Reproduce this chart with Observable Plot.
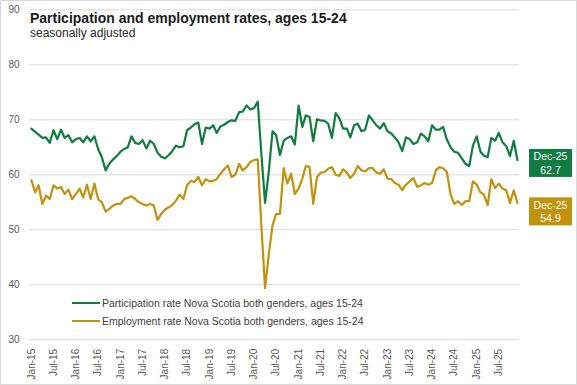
<!DOCTYPE html>
<html>
<head>
<meta charset="utf-8">
<script src="https://cdn.jsdelivr.net/npm/d3@7"></script>
<script src="https://cdn.jsdelivr.net/npm/@observablehq/plot@0.6"></script>
<style>
  html, body { margin: 0; padding: 0; background: #fff; }
  #wrap { position: relative; width: 577px; height: 385px; overflow: hidden;
          font-family: "Liberation Sans", Arial, sans-serif; }
  #chart svg { display: block; }
  #title { position: absolute; left: 30px; top: 10.8px; font-size: 14px; line-height: 14px;
           font-weight: bold; color: #1a1a1a; white-space: nowrap; }
  #subtitle { position: absolute; left: 30px; top: 27.1px; font-size: 12px; line-height: 12px;
              color: #262626; white-space: nowrap; }
  .leg { position: absolute; left: 72px; font-size: 10.5px; line-height: 10.5px; color: #404040;
         white-space: nowrap; display: flex; align-items: center; }
  .leg .sw { display: inline-block; width: 28px; height: 2px; margin-right: 2px; }
  #border { position: absolute; left: 0; top: 0; width: 577px; height: 385px; box-sizing: border-box;
            border: 1px solid #d9d9d9; pointer-events: none; }
</style>
</head>
<body>
<div id="wrap">
  <div id="chart"></div>
  <div id="title"></div>
  <div id="subtitle"></div>
  <div id="legend"></div>
  <div id="border"></div>
</div>
<script>
// ---------- data ----------
const titleText = "Participation and employment rates, ages 15-24";
const subtitleText = "seasonally adjusted";
const seriesNames = [
  "Participation rate Nova Scotia both genders, ages 15-24",
  "Employment rate Nova Scotia both genders, ages 15-24"
];
const firstMonth = "2015-01";
const lastMonth = "2025-12";
const yTicks = [30, 40, 50, 60, 70, 80, 90];

const participation = [
  68.4, 67.8, 67.3, 66.7, 66.8, 65.8, 68.1, 66.5, 68.2, 66.7, 67.2, 65.9,
  66.5, 66.7, 65.9, 67.0, 66.1, 67.0, 64.7, 63.2, 60.8, 62.0, 62.8, 63.4,
  64.2, 64.7, 65.0, 67.0, 65.8, 65.6, 66.3, 64.8, 66.2, 65.6, 64.0, 63.3,
  63.0, 63.6, 64.3, 65.3, 65.0, 65.2, 68.1, 68.6, 69.2, 69.5, 65.6, 68.6,
  68.4, 69.0, 67.6, 68.8, 69.1, 69.6, 69.9, 69.8, 71.4, 71.5, 72.6, 71.9,
  72.1, 73.3, 64.0, 54.9, 60.5, 67.9, 67.2, 63.6, 66.2, 66.7, 67.0, 65.5,
  72.6, 68.7, 70.8, 70.5, 66.1, 70.1, 69.9, 69.8, 69.3, 66.7, 71.2, 70.3,
  68.4, 68.4, 66.8, 69.0, 69.3, 67.9, 68.2, 70.8, 69.9, 69.0, 68.4, 69.4,
  67.9, 67.5, 66.8, 65.9, 64.3, 66.8, 66.5, 65.6, 65.9, 67.5, 67.0, 66.1,
  69.0, 68.2, 68.2, 68.7, 66.4, 65.0, 64.2, 64.0, 63.0, 62.0, 61.6, 65.3,
  67.0, 64.2, 63.5, 63.2, 66.7, 66.2, 67.6, 65.9, 65.2, 63.4, 66.2, 62.7
];
const employment = [
  59.0, 56.8, 58.1, 54.7, 56.2, 55.6, 58.1, 57.5, 57.8, 56.5, 57.3, 55.6,
  56.5, 57.5, 55.9, 58.2, 55.6, 58.4, 55.6, 55.0, 53.3, 53.8, 54.4, 54.7,
  54.7, 55.6, 55.8, 56.1, 55.6, 55.0, 54.7, 54.4, 54.7, 54.4, 51.8, 52.9,
  53.7, 54.1, 54.5, 55.3, 56.4, 55.6, 58.1, 58.9, 58.7, 59.6, 58.1, 59.2,
  58.8, 58.9, 59.2, 60.2, 61.0, 61.7, 59.6, 60.0, 62.0, 60.8, 61.4, 62.3,
  62.7, 62.8, 51.0, 39.4, 45.5, 50.8, 52.9, 52.9, 61.2, 58.4, 60.2, 56.5,
  57.5, 59.3, 61.6, 61.4, 54.7, 59.6, 60.4, 60.5, 61.1, 61.4, 60.0, 59.8,
  61.0, 60.4, 59.4, 60.2, 61.6, 60.8, 60.6, 61.2, 61.2, 60.4, 60.2, 61.0,
  59.3, 59.2, 58.5, 58.2, 57.2, 58.2, 58.8, 59.4, 57.8, 58.1, 58.5, 58.2,
  58.5, 60.8, 61.4, 61.2, 60.5, 56.4, 54.7, 55.2, 54.5, 55.2, 55.2, 58.8,
  58.2, 56.8, 56.4, 54.5, 59.2, 57.6, 58.4, 57.5, 57.2, 54.9, 57.2, 54.9
];

// ---------- styles ----------
const GREEN = "#107c41";
const GOLD = "#c1920c";
const colors = [GREEN, GOLD];

// ---------- build ----------
const parse = d3.utcParse("%Y-%m");
const start = parse(firstMonth), end = parse(lastMonth);
const months = d3.utcMonth.range(start, d3.utcMonth.offset(end, 1));
const fmt = d3.utcFormat("%b-%y");
const xTicks = d3.utcMonth.every(6).range(start, d3.utcMonth.offset(end, 1));

const rows = [];
[participation, employment].forEach((vals, s) => {
  vals.forEach((v, i) => rows.push({ series: seriesNames[s], date: months[i], value: v }));
});

const last = months.length - 1;
const endLabels = [
  { date: months[last], value: participation[last], fill: GREEN, shift: 3.5 },
  { date: months[last], value: employment[last], fill: GOLD, shift: 9 }
];

const boxMark = Plot.text(endLabels, {
  x: "date", y: "value", text: d => fmt(d.date),
  render(index, scales, values) {
    const g = d3.create("svg:g");
    for (const i of index) {
      const d = endLabels[i];
      const cx = values.x[i] + 33.6, cy = values.y[i] + d.shift;
      g.append("rect").attr("x", cx - 21.5).attr("y", cy - 14).attr("width", 43).attr("height", 28)
        .attr("fill", d.fill);
      const t = g.append("text").attr("fill", "white").attr("font-size", 10.5)
        .attr("text-anchor", "middle").attr("font-family", "Liberation Sans, Arial, sans-serif");
      t.append("tspan").attr("x", cx).attr("y", cy - 2.8).text(fmt(d.date));
      t.append("tspan").attr("x", cx).attr("y", cy + 10.8).text(d.value.toFixed(1));
    }
    return g.node();
  }
});

const chart = Plot.plot({
  width: 577,
  height: 385,
  marginTop: 9.3,
  marginBottom: 45.7,
  marginLeft: 29,
  marginRight: 58,
  style: { fontFamily: "Liberation Sans, Arial, sans-serif", background: "transparent", overflow: "visible" },
  x: { type: "utc", domain: [start, end], insetLeft: 1.9, insetRight: 2.1 },
  y: { domain: [30, 90] },
  color: { domain: seriesNames, range: colors },
  marks: [
    Plot.ruleY(yTicks, { stroke: "#d9d9d9", strokeWidth: 1 }),
    Plot.axisY({ ticks: yTicks, tickSize: 0, tickPadding: 10, fontSize: 10, fill: "#595959", label: null }),
    Plot.axisX({ ticks: xTicks, tickFormat: fmt, tickSize: 0, tickPadding: 9, tickRotate: -90,
                 fontSize: 10, fill: "#595959", label: null }),
    Plot.line(rows, { x: "date", y: "value", z: "series", stroke: "series", strokeWidth: 2.2,
                      strokeLinejoin: "round", strokeLinecap: "round" }),
    boxMark
  ]
});
document.getElementById("chart").append(chart);

document.getElementById("title").textContent = titleText;
document.getElementById("subtitle").textContent = subtitleText;

const legend = document.getElementById("legend");
seriesNames.forEach((name, s) => {
  const item = document.createElement("div");
  item.className = "leg";
  item.style.top = (297.8 + s * 17.7) + "px";
  const sw = document.createElement("span");
  sw.className = "sw";
  sw.style.background = colors[s];
  item.append(sw, document.createTextNode(name));
  legend.append(item);
});
</script>
</body>
</html>
